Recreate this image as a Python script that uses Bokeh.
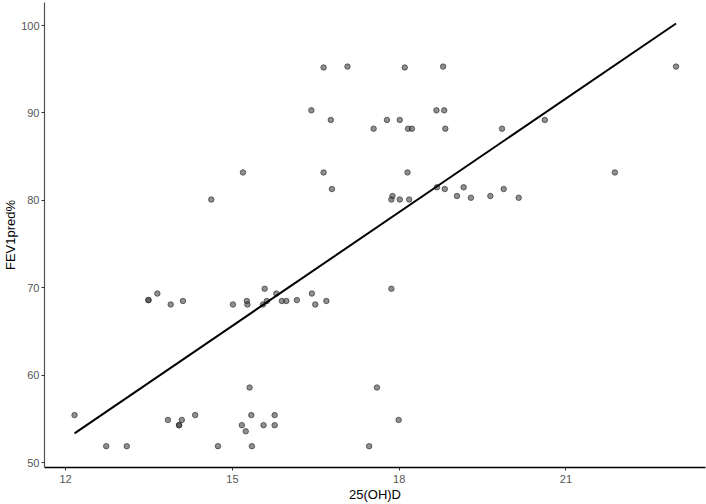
import numpy as np
from bokeh.plotting import figure
from bokeh.models import Range1d, FixedTicker
from bokeh.embed import file_html
from bokeh.resources import INLINE

# 25(OH)D values
vitd = [14.62, 15.19, 16.64, 17.07, 16.42, 16.77, 16.64, 16.79,
        18.10, 18.79, 18.67, 18.81, 17.78, 18.01, 17.54, 18.16, 18.23, 18.83, 19.85, 20.62,
        22.98, 18.15, 21.88, 18.68, 18.82, 19.16, 19.04, 19.29, 19.64, 19.88, 20.15,
        17.88, 17.86, 18.01, 18.18,
        12.16, 12.73, 13.10, 13.49, 13.49, 13.65, 13.89, 14.11, 13.84, 14.04, 14.04, 14.09,
        14.33, 14.74, 15.01, 15.26, 15.27, 15.58, 15.55, 15.62, 15.79, 15.89, 15.97, 16.16,
        16.43, 16.49, 16.69, 15.31, 15.17, 15.24, 15.34, 15.35, 15.56, 15.76, 15.76,
        17.86, 17.60, 17.99, 17.46]
# FEV1pred% values
fev1 = [80.1, 83.2, 95.2, 95.3, 90.3, 89.2, 83.2, 81.3,
        95.2, 95.3, 90.3, 90.3, 89.2, 89.2, 88.2, 88.2, 88.2, 88.2, 88.2, 89.2,
        95.3, 83.2, 83.2, 81.5, 81.3, 81.5, 80.5, 80.3, 80.5, 81.3, 80.3,
        80.5, 80.1, 80.1, 80.1,
        55.45, 51.9, 51.9, 68.6, 68.6, 69.35, 68.1, 68.5, 54.9, 54.3, 54.3, 54.9,
        55.45, 51.9, 68.1, 68.5, 68.1, 69.9, 68.1, 68.5, 69.35, 68.5, 68.5, 68.6,
        69.35, 68.1, 68.5, 58.6, 54.3, 53.6, 55.45, 51.9, 54.3, 55.45, 54.3,
        69.9, 58.6, 54.9, 51.9]

x_ticks = [12, 15, 18, 21]
y_ticks = [50, 60, 70, 80, 90, 100]

xa = np.array(vitd)
ya = np.array(fev1)
slope, intercept = np.polyfit(xa, ya, 1)
fit_x = np.array([xa.min(), xa.max()])
fit_y = intercept + slope * fit_x

p = figure(width=706, height=504, output_backend="svg", toolbar_location=None,
           x_range=Range1d(11.62, 23.51), y_range=Range1d(49.46, 102.63),
           min_border_left=44, min_border_right=1, min_border_top=2, min_border_bottom=37)
p.background_fill_color = "white"
p.border_fill_color = "white"
p.outline_line_color = None
p.xgrid.visible = False
p.ygrid.visible = False

p.scatter(vitd, fev1, size=5.5, fill_color="#444444", fill_alpha=0.6,
          line_color="#222222", line_alpha=0.6, line_width=1)
p.line(fit_x, fit_y, line_color="black", line_width=2)

p.xaxis.ticker = FixedTicker(ticks=x_ticks)
p.yaxis.ticker = FixedTicker(ticks=y_ticks)
p.xaxis.axis_label = "25(OH)D"
p.yaxis.axis_label = "FEV1pred%"
for ax in (p.xaxis, p.yaxis):
    ax.axis_label_text_font = "Liberation Sans"
    ax.axis_label_text_font_size = "13px"
    ax.axis_label_text_font_style = "normal"
    ax.axis_label_text_color = "black"
    ax.major_label_text_font = "Liberation Sans"
    ax.major_label_text_font_size = "11px"
    ax.major_label_text_color = "#555555"
    ax.major_tick_in = 0
    ax.major_tick_out = 3
    ax.major_tick_line_color = "#333333"
    ax.minor_tick_line_color = None
p.xaxis.major_label_standoff = 4
p.xaxis.axis_label_standoff = 1
p.yaxis.major_label_standoff = 2
p.yaxis.axis_label_standoff = 0
p.xaxis.axis_line_color = "black"
p.xaxis.axis_line_width = 1.5
p.yaxis.axis_line_color = "#555555"
p.yaxis.axis_line_width = 1.2

open("out.html", "w").write(file_html(p, INLINE))
